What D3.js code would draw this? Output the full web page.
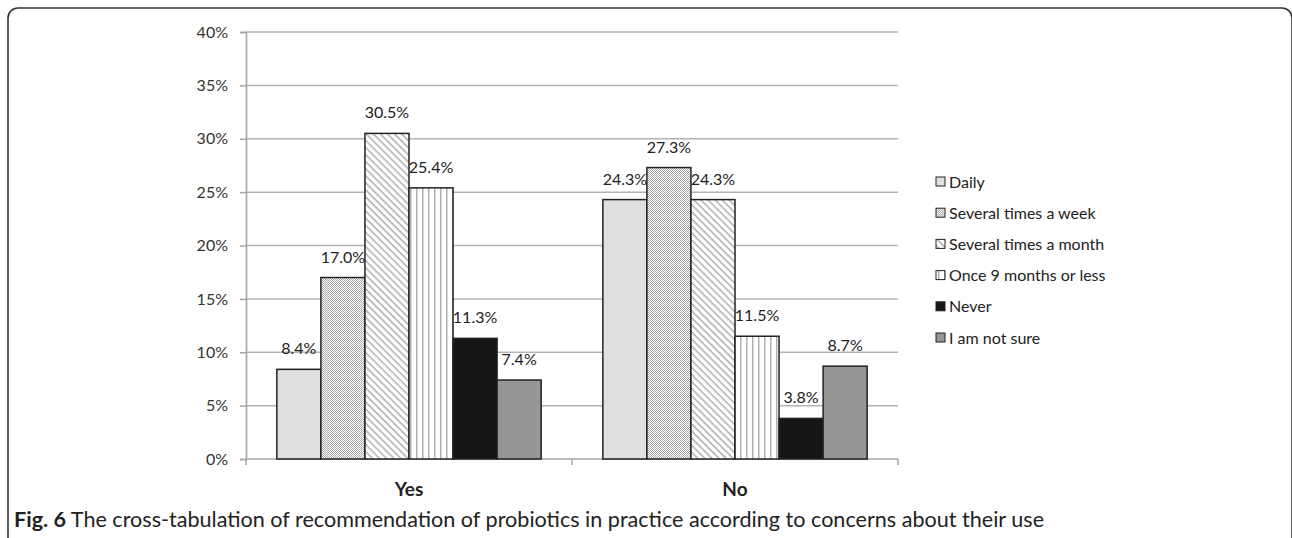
<!DOCTYPE html>
<html>
<head>
<meta charset="utf-8">
<script src="https://cdn.jsdelivr.net/npm/d3@7/dist/d3.min.js"></script>
<style>
  html, body { margin: 0; padding: 0; background: #fff; }
  svg { display: block; }
</style>
</head>
<body>
<svg id="chart" width="1292" height="538"></svg>
<script>
// ---- data ----
const categories = ["Yes", "No"];
const seriesNames = ["Daily", "Several times a week", "Several times a month", "Once 9 months or less", "Never", "I am not sure"];
const daily = [8.4, 24.3];
const severalWeek = [17.0, 27.3];
const severalMonth = [30.5, 24.3];
const onceNine = [25.4, 11.5];
const never = [11.3, 3.8];
const notSure = [7.4, 8.7];
const yTicks = [0, 5, 10, 15, 20, 25, 30, 35, 40];
const captionBold = "Fig. 6";
const captionText = " The cross-tabulation of recommendation of probiotics in practice according to concerns about their use";

const seriesValues = [daily, severalWeek, severalMonth, onceNine, never, notSure];

const svg = d3.select("#chart");
const font = "Lato, 'Open Sans', sans-serif";

// ---- patterns ----
const defs = svg.append("defs");
const pChk = defs.append("pattern").attr("id", "pChk").attr("patternUnits", "userSpaceOnUse")
  .attr("width", 2).attr("height", 2);
pChk.append("rect").attr("width", 2).attr("height", 2).attr("fill", "#ffffff");
pChk.append("rect").attr("width", 1).attr("height", 1).attr("fill", "#a8a8a8");
pChk.append("rect").attr("x", 1).attr("y", 1).attr("width", 1).attr("height", 1).attr("fill", "#a8a8a8");
const pDiag = defs.append("pattern").attr("id", "pDiag").attr("patternUnits", "userSpaceOnUse")
  .attr("width", 5).attr("height", 5).attr("patternTransform", "rotate(45)");
pDiag.append("rect").attr("width", 5).attr("height", 5).attr("fill", "#ffffff");
pDiag.append("rect").attr("width", 5).attr("height", 1.4).attr("fill", "#a8a8a8");
const pVert = defs.append("pattern").attr("id", "pVert").attr("patternUnits", "userSpaceOnUse")
  .attr("width", 6).attr("height", 6);
pVert.append("rect").attr("width", 6).attr("height", 6).attr("fill", "#ffffff");
pVert.append("rect").attr("x", 2).attr("width", 1.5).attr("height", 6).attr("fill", "#b0b0b0");

const fills = ["#e0e0e0", "url(#pChk)", "url(#pDiag)", "url(#pVert)", "#161616", "#969696"];

// ---- frame ----
svg.append("rect").attr("x", 8).attr("y", 8).attr("width", 1284).attr("height", 540)
  .attr("rx", 10).attr("ry", 10).attr("fill", "none").attr("stroke", "#333").attr("stroke-width", 1.6);

// ---- scales ----
const plot = { left: 246, right: 898, top: 32, bottom: 459 };
const x0 = d3.scaleBand().domain(categories).range([plot.left, plot.right]).paddingInner(0).paddingOuter(0);
const x1 = d3.scaleBand().domain(seriesNames).range([0, x0.bandwidth()]).paddingOuter(0.7).paddingInner(0);
const y = d3.scaleLinear().domain([0, 40]).range([plot.bottom, plot.top]);

// gridlines
svg.append("g").selectAll("line").data(yTicks.filter(d => d > 0)).join("line")
  .attr("x1", plot.left).attr("x2", plot.right)
  .attr("y1", d => y(d)).attr("y2", d => y(d))
  .attr("stroke", "#b3b3b3").attr("stroke-width", 1.5);

// y axis
const yAxis = d3.axisLeft(y).tickValues(yTicks).tickFormat(d => d + "%").tickSize(6).tickPadding(12);
const gy = svg.append("g").attr("transform", `translate(${plot.left},0)`).call(yAxis);
gy.select(".domain").attr("stroke", "#a6a6a6").attr("stroke-width", 1.6);
gy.selectAll(".tick line").attr("stroke", "#a6a6a6").attr("stroke-width", 1.5);
gy.selectAll(".tick text").attr("font-family", font).attr("font-size", 16).attr("fill", "#333");

// x axis
const gx = svg.append("g").attr("transform", `translate(0,${plot.bottom})`);
gx.append("line").attr("x1", plot.left).attr("x2", plot.right).attr("y1", 0).attr("y2", 0)
  .attr("stroke", "#a6a6a6").attr("stroke-width", 1.6);
const xTickPos = [plot.left, ...categories.map(c => x0(c) + x0.bandwidth())];
gx.selectAll("line.tk").data(xTickPos).join("line").attr("class", "tk")
  .attr("x1", d => d).attr("x2", d => d).attr("y1", 0).attr("y2", 6)
  .attr("stroke", "#a6a6a6").attr("stroke-width", 1.5);
gx.selectAll("text").data(categories).join("text")
  .attr("x", d => x0(d) + x0.bandwidth() / 2).attr("y", 37)
  .attr("text-anchor", "middle").attr("font-family", font).attr("font-weight", "bold")
  .attr("font-size", 19).attr("fill", "#222").text(d => d);

// bars
const barData = [];
categories.forEach((c, ci) => {
  seriesNames.forEach((s, si) => {
    barData.push({ cat: c, series: s, si, value: seriesValues[si][ci] });
  });
});
const gb = svg.append("g");
gb.selectAll("rect").data(barData).join("rect")
  .attr("x", d => x0(d.cat) + x1(d.series))
  .attr("y", d => y(d.value))
  .attr("width", x1.bandwidth())
  .attr("height", d => y(0) - y(d.value))
  .attr("fill", d => fills[d.si])
  .attr("stroke", "#222").attr("stroke-width", 1.5);

// labels
gb.selectAll("text").data(barData).join("text")
  .attr("x", d => x0(d.cat) + x1(d.series) + x1.bandwidth() / 2)
  .attr("y", d => y(d.value) - 15)
  .attr("text-anchor", "middle").attr("font-family", font).attr("font-size", 16).attr("fill", "#222")
  .text(d => d.value.toFixed(1) + "%");

// legend
const lg = svg.append("g").attr("transform", "translate(936,0)");
const leg = lg.selectAll("g").data(seriesNames).join("g")
  .attr("transform", (d, i) => `translate(0,${182 + i * 31.2})`);
leg.append("rect").attr("x", 0).attr("y", -5).attr("width", 9).attr("height", 9)
  .attr("fill", (d, i) => fills[i]).attr("stroke", "#222").attr("stroke-width", 1);
leg.append("text").attr("x", 13).attr("y", 0).attr("dy", "0.35em")
  .attr("font-family", font).attr("font-size", 16).attr("fill", "#222").text(d => d);

// caption
const cap = svg.append("text").attr("x", 14).attr("y", 527)
  .attr("font-family", font).attr("font-size", 18).attr("fill", "#222");
cap.append("tspan").attr("font-weight", "bold").text(captionBold);
cap.append("tspan").text(captionText);
const capLen = cap.node().getComputedTextLength();
cap.attr("font-size", 18 * 1031 / capLen);
</script>
</body>
</html>
